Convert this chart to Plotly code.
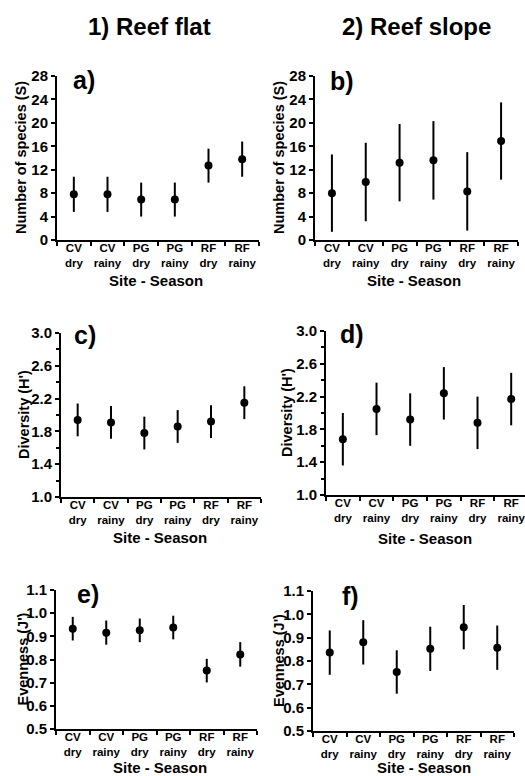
import plotly.graph_objects as go

W, H = 525, 776
FONT = "Liberation Sans, Arial, sans-serif"

categories = ["CV<br>dry", "CV<br>rainy", "PG<br>dry", "PG<br>rainy", "RF<br>dry", "RF<br>rainy"]

# a) Number of species - reef flat
a_mean = [7.8, 7.8, 6.9, 6.9, 12.7, 13.8]
a_sd = [3.0, 3.0, 2.9, 2.9, 2.9, 3.0]
# b) Number of species - reef slope
b_mean = [8.0, 9.9, 13.2, 13.6, 8.3, 16.9]
b_sd = [6.6, 6.7, 6.6, 6.7, 6.7, 6.6]
# c) Diversity - reef flat
c_mean = [1.94, 1.91, 1.78, 1.86, 1.92, 2.15]
c_sd = [0.20, 0.20, 0.20, 0.20, 0.20, 0.20]
# d) Diversity - reef slope
d_mean = [1.68, 2.05, 1.92, 2.24, 1.88, 2.17]
d_sd = [0.32, 0.32, 0.32, 0.32, 0.32, 0.32]
# e) Evenness - reef flat
e_mean = [0.933, 0.916, 0.926, 0.938, 0.752, 0.822]
e_sd = [0.051, 0.052, 0.051, 0.051, 0.051, 0.053]
# f) Evenness - reef slope
f_mean = [0.836, 0.880, 0.753, 0.852, 0.945, 0.857]
f_sd = [0.095, 0.095, 0.093, 0.095, 0.095, 0.095]

s_ticks = [0, 4, 8, 12, 16, 20, 24, 28]
h_ticks = [1.0, 1.4, 1.8, 2.2, 2.6, 3.0]
h_minor = [1.2, 1.6, 2.0, 2.4, 2.8]
j_ticks = [0.5, 0.6, 0.7, 0.8, 0.9, 1.0, 1.1]

y_titles = ["Number of species (S)", "Number of species (S)", "Diversity (H')",
            "Diversity (H')", "Evenness (J')", "Evenness (J')"]
panel_letters = ["a)", "b)", "c)", "d)", "e)", "f)"]

# panel pixel boxes: (x0, x1, y_top, y_bottom, xmax_range)
boxes = [
    (57, 259, 76, 240, 5.5),
    (315, 518, 76, 240, 5.5),
    (61, 261, 333, 497, 5.5),
    (326, 525, 331, 495, 5.41),
    (56, 257, 590, 729, 5.5),
    (313, 514, 591, 731, 5.5),
]
data = [(a_mean, a_sd), (b_mean, b_sd), (c_mean, c_sd), (d_mean, d_sd), (e_mean, e_sd), (f_mean, f_sd)]
yranges = [(0, 28), (0, 28), (1.0, 3.0), (1.0, 3.0), (0.5, 1.1), (0.5, 1.1)]
yticks = [s_ticks, s_ticks, h_ticks, h_ticks, j_ticks, j_ticks]
ytickfmt = ["", "", ".1f", ".1f", ".1f", ".1f"]
letter_pos = [(84, 80), (342, 81), (85, 335), (352, 334), (88, 594), (350, 596)]
ytitle_x = [21, 279, 24, 287, 22, 279]
xtitle_pos = [(156, 280), (414, 280), (160, 537), (425, 538), (160, 767), (424, 767)]

fig = go.Figure()
layout = dict(width=W, height=H, margin=dict(l=0, r=0, t=0, b=0),
              paper_bgcolor="white", plot_bgcolor="white", showlegend=False)
annotations = []

def px_x(x):
    return x / W

def px_y(y):
    return 1 - y / H

for i, ((mean, sd), box) in enumerate(zip(data, boxes)):
    n = i + 1
    xa = "x" if n == 1 else f"x{n}"
    ya = "y" if n == 1 else f"y{n}"
    fig.add_trace(go.Scatter(
        x=categories, y=mean, mode="markers", xaxis=xa, yaxis=ya,
        marker=dict(color="black", size=8),
        error_y=dict(type="data", array=sd, visible=True, color="black", thickness=2, width=0),
        cliponaxis=False,
    ))
    x0, x1, yt, yb, xmax = box
    xkey = "xaxis" if n == 1 else f"xaxis{n}"
    ykey = "yaxis" if n == 1 else f"yaxis{n}"
    layout[xkey] = dict(
        domain=[px_x(x0), px_x(x1)], anchor=ya, type="category",
        categoryorder="array", categoryarray=categories,
        range=[-0.5, xmax], showline=True, linecolor="black", linewidth=2,
        ticks="outside", tickson="boundaries", ticklen=4, tickwidth=2, tickcolor="black",
        showgrid=False, zeroline=False, tickangle=0, automargin=False,
        ticklabelstandoff=-4,
        tickfont=dict(family=FONT, size=11.5, color="black", weight="bold"),
    )
    yd = dict(
        domain=[px_y(yb), px_y(yt)], anchor=xa, range=list(yranges[i]),
        showline=True, linecolor="black", linewidth=2,
        ticks="outside", ticklen=4, tickwidth=2, tickcolor="black",
        tickvals=yticks[i], tickformat=ytickfmt[i],
        showgrid=False, zeroline=False, automargin=False,
        tickfont=dict(family=FONT, size=15, color="black", weight="bold"),
    )
    if i in (2, 3):
        yd["minor"] = dict(tickvals=h_minor, ticks="outside", ticklen=3, tickwidth=1.5, tickcolor="black", showgrid=False)
    layout[ykey] = yd

    lx, ly = letter_pos[i]
    annotations.append(dict(text=panel_letters[i], x=px_x(lx), y=px_y(ly), xref="paper", yref="paper",
                            showarrow=False, xanchor="center", yanchor="middle",
                            font=dict(family=FONT, size=25, color="black", weight="bold")))
    annotations.append(dict(text=y_titles[i], x=px_x(ytitle_x[i]), y=px_y((yt + yb) / 2),
                            xref="paper", yref="paper", textangle=-90, showarrow=False,
                            xanchor="center", yanchor="middle",
                            font=dict(family=FONT, size=14.5, color="black", weight="bold")))
    tx, ty = xtitle_pos[i]
    annotations.append(dict(text="Site - Season", x=px_x(tx), y=px_y(ty), xref="paper", yref="paper",
                            showarrow=False, xanchor="center", yanchor="middle",
                            font=dict(family=FONT, size=15, color="black", weight="bold")))

annotations.append(dict(text="1) Reef flat", x=px_x(149), y=px_y(27), xref="paper", yref="paper",
                        showarrow=False, xanchor="center", yanchor="middle",
                        font=dict(family=FONT, size=24, color="black", weight="bold")))
annotations.append(dict(text="2) Reef slope", x=px_x(416), y=px_y(27), xref="paper", yref="paper",
                        showarrow=False, xanchor="center", yanchor="middle",
                        font=dict(family=FONT, size=24, color="black", weight="bold")))

layout["annotations"] = annotations
fig.update_layout(**layout)
fig.write_html("out.html", config={"displayModeBar": False},
               post_script="document.body.style.margin='0px';document.body.style.overflow='hidden';")
